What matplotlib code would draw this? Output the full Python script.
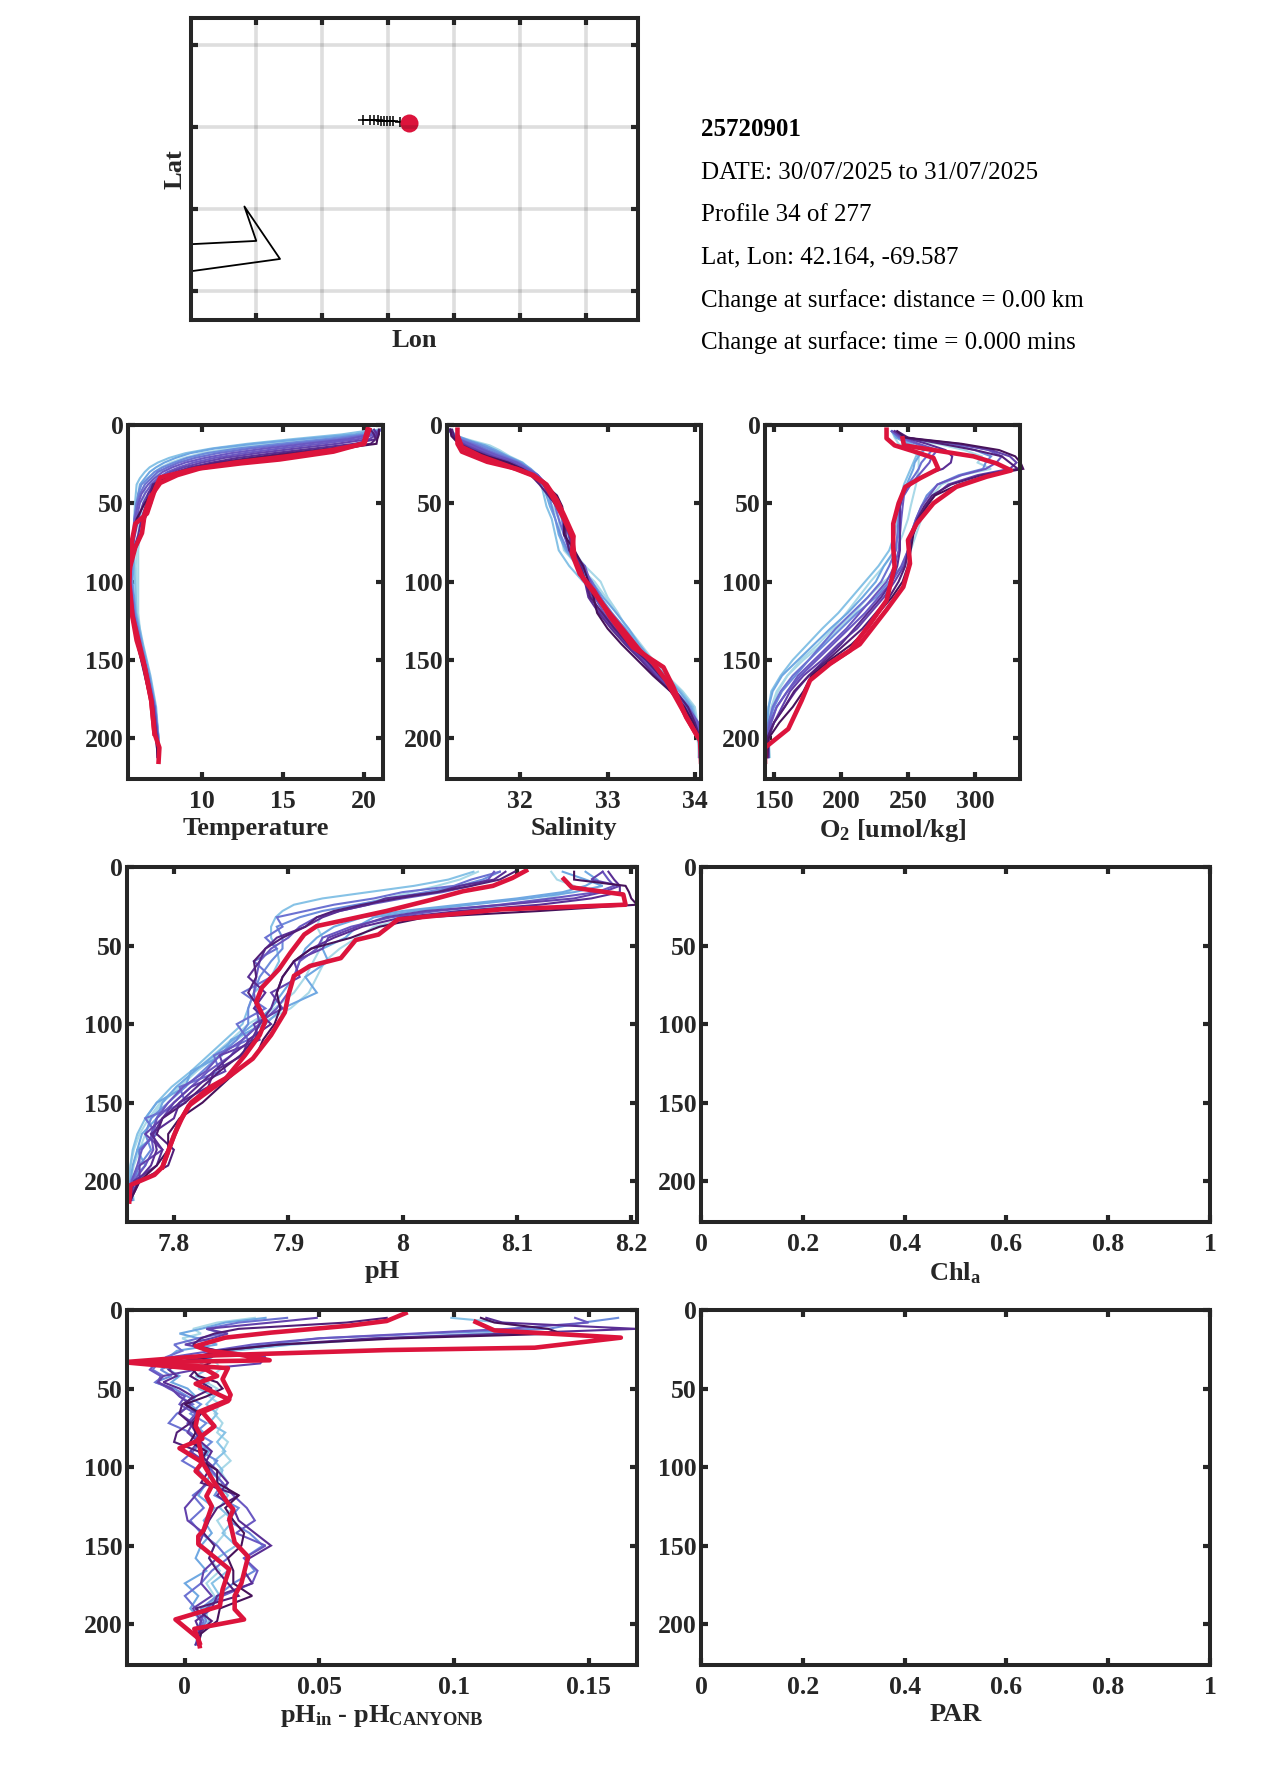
"""Float profile summary page: track map, text block and six depth panels."""
import matplotlib
matplotlib.use("Agg")
import matplotlib.pyplot as plt

plt.rcParams["font.family"] = ["Liberation Serif", "DejaVu Serif"]
plt.rcParams["font.weight"] = "bold"
plt.rcParams["axes.labelweight"] = "bold"
plt.rcParams["mathtext.default"] = "regular"

W, H = 1275, 1771
DARK = "#262626"
RED = "#dc143c"
# light to dark, drawn in that order so the newest thin line ends up on top
THIN_COLORS = ["#a9d9e8", "#86c2e6", "#6fa8e2", "#6c8cdc", "#6c72d2",
               "#6a58c2", "#6342ac", "#5a2e94", "#521f78", "#47125a"]

# map
LON_TICKS = [-72, -71, -70, -69, -68, -67]
LAT_TICKS = [40, 41, 42, 43]
COAST_LON = [-72.99, -72.0, -72.18, -71.64, -72.99]
COAST_LAT = [40.57, 40.61, 41.03, 40.39, 40.24]
TRACK_LON = [-70.38, -70.27, -70.22, -70.16, -70.11, -70.07, -70.02, -69.97, -69.92, -69.82]
TRACK_LAT = [42.085, 42.085, 42.08, 42.08, 42.075, 42.075, 42.07, 42.07, 42.07, 42.065]
DOT_LON = -69.69
DOT_LAT = 42.05

INFO_LINES = ["25720901",
              "DATE: 30/07/2025 to 31/07/2025",
              "Profile 34 of 277",
              "Lat, Lon: 42.164, -69.587",
              "Change at surface: distance = 0.00 km",
              "Change at surface: time = 0.000 mins"]

DEPTH_TICKS = [0, 50, 100, 150, 200]

# temperature
TEMP_DEPTH = [3, 6, 9, 12, 15, 18, 21, 24, 27, 30, 34, 38, 44, 50, 60, 70, 80, 90, 100, 120, 140, 160, 180, 200, 212]
TEMP_THIN = [
    [20.9, 19.8, 17.2, 14.6, 12.3, 10.5, 9.3, 8.5, 7.9, 7.4, 7.0, 6.8, 6.9, 6.7, 6.4, 6.2, 6.1, 6.1, 6.1, 6.1, 6.3, 6.7, 7.1, 7.3, 7.4],
    [20.8, 19.6, 16.8, 14.0, 11.6, 10.0, 8.9, 8.1, 7.5, 7.1, 6.7, 6.5, 6.5, 6.4, 6.2, 6.1, 6.0, 5.95, 6.0, 6.0, 6.3, 6.7, 7.1, 7.3, 7.35],
    [20.6, 18.6, 15.6, 12.8, 10.6, 9.0, 8.0, 7.3, 6.8, 6.5, 6.2, 6.0, 5.95, 5.9, 5.85, 5.8, 5.8, 5.85, 5.9, 6.0, 6.4, 6.85, 7.2, 7.35, 7.4],
    [21.0, 19.4, 16.2, 13.2, 10.8, 9.3, 8.4, 7.7, 7.2, 6.8, 6.5, 6.2, 6.1, 6.0, 5.9, 5.85, 5.8, 5.8, 5.75, 5.95, 6.35, 6.8, 7.15, 7.35, 7.4],
    [21.1, 20.0, 17.6, 14.8, 12.2, 10.3, 9.1, 8.3, 7.6, 7.1, 6.7, 6.3, 6.1, 6.0, 5.9, 5.8, 5.7, 5.7, 5.7, 5.9, 6.3, 6.75, 7.15, 7.35, 7.35],
    [21.1, 20.3, 18.4, 15.6, 13.0, 11.0, 9.6, 8.6, 7.9, 7.3, 6.9, 6.5, 6.2, 6.0, 5.85, 5.8, 5.7, 5.65, 5.65, 5.85, 6.25, 6.7, 7.1, 7.3, 7.3],
    [21.05, 20.5, 19.0, 16.4, 13.9, 11.8, 10.2, 9.0, 8.2, 7.6, 7.1, 6.7, 6.3, 6.1, 5.9, 5.8, 5.65, 5.6, 5.6, 5.8, 6.2, 6.7, 7.1, 7.3, 7.35],
    [21.0, 20.7, 19.6, 17.3, 14.8, 12.6, 10.8, 9.5, 8.6, 7.9, 7.3, 6.9, 6.5, 6.2, 6.0, 5.8, 5.65, 5.6, 5.6, 5.8, 6.2, 6.65, 7.1, 7.3, 7.3],
    [20.9, 20.8, 20.3, 18.3, 15.8, 13.4, 11.4, 10.0, 8.9, 8.1, 7.5, 7.0, 6.7, 6.4, 6.1, 5.9, 5.7, 5.55, 5.55, 5.75, 6.15, 6.65, 7.05, 7.3, 7.3],
    [20.6, 20.8, 20.7, 19.4, 16.9, 14.4, 12.2, 10.6, 9.3, 8.4, 7.7, 7.1, 6.7, 6.6, 6.3, 6.1, 5.8, 5.6, 5.5, 5.7, 6.1, 6.6, 7.0, 7.25, 7.3],
    [20.4, 20.6, 20.7, 20.4, 17.8, 15.2, 13.0, 11.0, 9.6, 8.6, 7.8, 7.0, 6.85, 6.9, 6.5, 6.3, 5.9, 5.65, 5.55, 5.7, 6.05, 6.55, 7.0, 7.2, 7.3],
    [20.9, 20.9, 20.8, 20.75, 18.6, 15.9, 13.5, 11.5, 9.9, 8.8, 7.9, 7.15, 6.9, 6.5, 6.0, 5.75, 5.65, 5.55, 5.5, 5.7, 6.05, 6.5, 6.95, 7.2, 7.3],
]
TEMP_RED_A_D = [2.8, 11.7, 17, 22, 24.5, 27.7, 32, 37, 46, 56.5, 69, 78, 90.6, 101, 120, 137.5, 154.6, 176, 197, 206, 215]
TEMP_RED_A = [20.2, 19.96, 18.1, 14.8, 12.4, 9.9, 8.5, 7.45, 6.84, 6.5, 6.33, 5.92, 5.6, 5.5, 5.7, 6.0, 6.5, 6.9, 7.1, 7.4, 7.35]
TEMP_RED_B_D = [3, 12, 16, 20, 24, 28, 33.5, 40.5, 56.5, 63, 73.5, 86, 101, 122, 150, 176, 197]
TEMP_RED_B = [20.3, 20.0, 18.0, 15.2, 12.0, 9.6, 7.45, 7.15, 6.64, 5.92, 5.72, 5.6, 5.55, 5.75, 6.4, 6.9, 7.1]

# salinity
SAL_DEPTH = [3, 7, 10, 13, 16, 20, 24, 28, 32, 38, 45, 52, 60, 70, 80, 90, 100, 110, 120, 130, 140, 150, 160, 170, 180, 190, 200, 212]
SAL_THIN = [
    [31.17, 31.25, 31.4, 31.6, 31.72, 31.85, 32.0, 32.08, 32.2, 32.3, 32.37, 32.42, 32.47, 32.52, 32.6, 32.74, 32.92, 33.0, 33.12, 33.22, 33.34, 33.48, 33.6, 33.78, 33.9, 33.98, 34.03, 34.05],
    [31.17, 31.26, 31.45, 31.65, 31.76, 31.88, 32.03, 32.1, 32.18, 32.24, 32.3, 32.37, 32.44, 32.46, 32.5, 32.66, 32.85, 32.98, 33.1, 33.24, 33.38, 33.52, 33.68, 33.86, 34.0, 34.03, 34.05, 34.04],
    [31.17, 31.24, 31.38, 31.52, 31.66, 31.82, 32.0, 32.1, 32.18, 32.24, 32.27, 32.3, 32.36, 32.4, 32.44, 32.56, 32.72, 32.9, 33.04, 33.2, 33.36, 33.5, 33.66, 33.84, 33.98, 34.02, 34.05, 34.05],
    [31.18, 31.28, 31.42, 31.6, 31.72, 31.86, 32.02, 32.12, 32.2, 32.28, 32.3, 32.34, 32.4, 32.44, 32.52, 32.66, 32.82, 32.95, 33.1, 33.24, 33.36, 33.5, 33.66, 33.82, 33.96, 34.02, 34.05, 34.05],
    [31.2, 31.26, 31.4, 31.55, 31.68, 31.84, 32.0, 32.1, 32.2, 32.28, 32.33, 32.36, 32.4, 32.46, 32.54, 32.68, 32.8, 32.92, 33.05, 33.2, 33.33, 33.46, 33.62, 33.78, 33.94, 34.02, 34.06, 34.06],
    [31.2, 31.24, 31.35, 31.5, 31.62, 31.8, 31.98, 32.1, 32.2, 32.3, 32.36, 32.4, 32.44, 32.5, 32.58, 32.7, 32.82, 32.92, 33.02, 33.16, 33.3, 33.44, 33.6, 33.76, 33.9, 34.0, 34.06, 34.05],
    [31.2, 31.24, 31.33, 31.46, 31.58, 31.76, 31.96, 32.08, 32.2, 32.3, 32.38, 32.44, 32.48, 32.5, 32.56, 32.74, 32.8, 32.88, 33.0, 33.12, 33.28, 33.42, 33.6, 33.78, 33.92, 34.04, 34.07, 34.06],
    [31.2, 31.22, 31.3, 31.42, 31.54, 31.72, 31.92, 32.06, 32.18, 32.3, 32.4, 32.45, 32.5, 32.55, 32.6, 32.72, 32.8, 32.85, 32.96, 33.1, 33.26, 33.42, 33.58, 33.76, 33.9, 34.02, 34.06, 34.07],
    [31.19, 31.22, 31.28, 31.38, 31.5, 31.68, 31.9, 32.04, 32.16, 32.28, 32.38, 32.44, 32.52, 32.58, 32.62, 32.66, 32.76, 32.82, 32.92, 33.06, 33.22, 33.4, 33.56, 33.74, 33.88, 33.98, 34.06, 34.07],
    [31.19, 31.22, 31.27, 31.35, 31.46, 31.64, 31.86, 32.02, 32.14, 32.26, 32.34, 32.42, 32.52, 32.56, 32.6, 32.7, 32.74, 32.78, 32.9, 33.04, 33.2, 33.38, 33.54, 33.72, 33.86, 33.97, 34.05, 34.07],
    [31.22, 31.24, 31.27, 31.31, 31.42, 31.6, 31.84, 32.0, 32.12, 32.22, 32.32, 32.42, 32.52, 32.52, 32.56, 32.68, 32.75, 32.8, 32.94, 33.08, 33.24, 33.44, 33.6, 33.78, 33.92, 34.0, 34.06, 34.07],
    [31.2, 31.21, 31.26, 31.33, 31.44, 31.62, 31.86, 32.02, 32.14, 32.28, 32.42, 32.48, 32.5, 32.5, 32.62, 32.72, 32.78, 32.84, 32.88, 33.0, 33.16, 33.34, 33.52, 33.72, 33.88, 33.98, 34.04, 34.07],
]
SAL_RED_A_D = [3, 12, 17, 23.5, 28, 32, 38, 48, 58.6, 71, 82, 95, 105.5, 122.6, 142, 154.6, 167, 186.6, 201.5, 215]
SAL_RED_A = [31.28, 31.28, 31.33, 31.62, 31.96, 32.15, 32.3, 32.42, 32.51, 32.61, 32.59, 32.68, 32.84, 33.03, 33.29, 33.64, 33.75, 33.9, 34.06, 34.07]
SAL_RED_B_D = [8, 14, 20, 26, 32, 37, 47, 60, 72, 85, 98, 120, 144, 152, 163, 180, 198]
SAL_RED_B = [31.29, 31.33, 31.55, 31.85, 32.13, 32.27, 32.38, 32.5, 32.6, 32.62, 32.72, 33.02, 33.37, 33.52, 33.67, 33.84, 34.02]

# oxygen
O2_DEPTH = [4, 8, 12, 16, 20, 24, 28, 32, 38, 45, 52, 60, 70, 80, 90, 100, 110, 120, 130, 140, 150, 160, 170, 180, 190, 200, 212]
O2_THIN = [
    [238, 240, 243, 252, 258, 258, 258, 257, 256, 254, 252, 250, 246, 241, 232, 222, 213, 204, 194, 183, 170, 160, 153, 149, 147, 146, 147],
    [238, 242, 272, 292, 305, 302, 312, 290, 275, 268, 264, 260, 256, 252, 246, 232, 220, 210, 198, 186, 172, 160, 152, 148, 146, 145, 146],
    [238, 242, 252, 262, 256, 254, 252, 250, 247, 245, 243, 242, 240, 236, 228, 218, 208, 198, 186, 175, 164, 155, 148, 146, 145, 145, 146],
    [238, 241, 250, 262, 258, 255, 254, 252, 249, 246, 244, 244, 243, 240, 232, 226, 216, 205, 192, 180, 168, 156, 149, 146, 145, 145, 145],
    [238, 244, 282, 300, 312, 308, 306, 288, 272, 264, 260, 256, 252, 250, 246, 236, 226, 212, 200, 188, 176, 166, 156, 150, 146, 145, 146],
    [238, 243, 256, 268, 264, 260, 258, 255, 250, 246, 244, 243, 242, 241, 236, 230, 220, 208, 196, 186, 176, 164, 155, 149, 146, 145, 145],
    [238, 245, 288, 310, 320, 316, 308, 290, 272, 266, 260, 256, 252, 250, 245, 238, 228, 218, 206, 194, 182, 170, 160, 152, 147, 145, 145],
    [240, 246, 258, 272, 268, 266, 262, 258, 252, 247, 246, 245, 244, 243, 240, 234, 224, 214, 204, 192, 180, 168, 160, 152, 148, 146, 146],
    [240, 246, 285, 312, 326, 331, 326, 302, 280, 270, 263, 258, 253, 251, 247, 240, 232, 222, 212, 198, 186, 172, 162, 156, 150, 146, 146],
    [240, 248, 264, 278, 283, 282, 276, 262, 250, 246, 244, 244, 244, 244, 242, 238, 230, 220, 210, 200, 188, 176, 166, 158, 150, 145, 145],
    [242, 250, 275, 300, 320, 326, 332, 305, 282, 268, 262, 257, 252, 250, 248, 243, 236, 226, 216, 203, 190, 176, 165, 158, 150, 145, 145],
    [242, 248, 290, 318, 330, 334, 336, 310, 288, 270, 264, 258, 254, 252, 250, 246, 238, 228, 220, 208, 192, 178, 172, 164, 154, 146, 145],
]
O2_RED_A_D = [3, 8.5, 13, 17, 21, 28, 34, 39.5, 50, 63, 78, 90.6, 112, 127, 144, 152.5, 163, 176, 194, 206, 215]
O2_RED_A = [234, 234, 240, 255, 269, 272.6, 259, 248, 243, 239, 239, 240, 234, 221.6, 206.7, 191.8, 176.9, 170.6, 160.7, 143.3, 143.3]
O2_RED_B_D = [8.5, 13, 16, 20, 24.5, 29, 33, 39.5, 50, 63, 73.5, 88.5, 103.4, 118, 140, 152]
O2_RED_B = [246, 247, 269, 298.8, 316, 327, 308.7, 286, 269, 256.5, 250, 251.5, 246.5, 234, 214, 192]

# pH
PH_DEPTH = [3, 8, 12, 16, 20, 24, 28, 32, 38, 45, 52, 60, 70, 80, 90, 100, 110, 120, 130, 140, 150, 160, 170, 180, 190, 200, 212]
PH_THIN = [
    [8.066, 8.050, 8.030, 8.008, 7.985, 7.962, 7.940, 7.928, 7.925, 7.930, 7.928, 7.922, 7.915, 7.905, 7.888, 7.865, 7.850, 7.834, 7.818, 7.803, 7.788, 7.778, 7.770, 7.765, 7.762, 7.76, 7.763],
    [8.13, 8.135, 8.15, 8.145, 8.126, 8.09, 8.05, 8.01, 7.975, 7.96, 7.945, 7.932, 7.925, 7.918, 7.902, 7.875, 7.855, 7.838, 7.82, 7.805, 7.79, 7.78, 7.775, 7.77, 7.765, 7.762, 7.765],
    [8.062, 8.04, 8.01, 7.97, 7.93, 7.905, 7.895, 7.889, 7.885, 7.885, 7.89, 7.892, 7.885, 7.87, 7.865, 7.86, 7.845, 7.83, 7.815, 7.798, 7.785, 7.775, 7.768, 7.764, 7.762, 7.761, 7.762],
    [8.14, 8.16, 8.175, 8.15, 8.11, 8.06, 8.01, 7.975, 7.96, 7.95, 7.93, 7.935, 7.915, 7.925, 7.895, 7.88, 7.85, 7.842, 7.815, 7.81, 7.785, 7.775, 7.785, 7.768, 7.775, 7.762, 7.764],
    [8.16, 8.17, 8.16, 8.14, 8.1, 8.05, 8.0, 7.965, 7.94, 7.925, 7.915, 7.91, 7.905, 7.895, 7.885, 7.87, 7.852, 7.835, 7.818, 7.802, 7.79, 7.785, 7.772, 7.768, 7.764, 7.762, 7.764],
    [8.085, 8.07, 8.05, 8.02, 7.99, 7.96, 7.93, 7.91, 7.89, 7.895, 7.895, 7.885, 7.875, 7.87, 7.865, 7.865, 7.855, 7.84, 7.825, 7.81, 7.795, 7.78, 7.775, 7.78, 7.77, 7.762, 7.762],
    [8.085, 8.06, 8.045, 8.0, 7.975, 7.94, 7.915, 7.89, 7.895, 7.88, 7.89, 7.87, 7.885, 7.86, 7.88, 7.855, 7.865, 7.835, 7.84, 7.805, 7.81, 7.775, 7.785, 7.77, 7.77, 7.764, 7.762],
    [8.175, 8.18, 8.185, 8.17, 8.13, 8.085, 8.03, 7.99, 7.955, 7.93, 7.925, 7.91, 7.905, 7.9, 7.89, 7.875, 7.86, 7.84, 7.828, 7.808, 7.795, 7.785, 7.782, 7.772, 7.768, 7.763, 7.763],
    [8.08, 8.075, 8.06, 8.035, 8.0, 7.97, 7.945, 7.925, 7.91, 7.9, 7.885, 7.875, 7.872, 7.87, 7.872, 7.875, 7.86, 7.85, 7.83, 7.815, 7.8, 7.785, 7.78, 7.782, 7.775, 7.765, 7.762],
    [8.175, 8.165, 8.19, 8.175, 8.15, 8.09, 8.02, 7.985, 7.96, 7.935, 7.93, 7.905, 7.91, 7.885, 7.895, 7.87, 7.875, 7.84, 7.845, 7.815, 7.8, 7.79, 7.775, 7.79, 7.77, 7.77, 7.762],
    [8.18, 8.185, 8.19, 8.19, 8.165, 8.12, 8.05, 8.0, 7.965, 7.94, 7.92, 7.905, 7.895, 7.89, 7.885, 7.875, 7.868, 7.85, 7.835, 7.82, 7.805, 7.79, 7.782, 7.785, 7.78, 7.768, 7.762],
    [8.09, 8.08, 8.05, 8.03, 7.985, 7.97, 7.945, 7.93, 7.915, 7.89, 7.88, 7.875, 7.865, 7.88, 7.87, 7.885, 7.865, 7.86, 7.835, 7.83, 7.805, 7.8, 7.78, 7.79, 7.785, 7.765, 7.762],
    [8.098, 8.085, 8.06, 8.03, 7.995, 7.965, 7.94, 7.925, 7.915, 7.895, 7.88, 7.87, 7.872, 7.865, 7.875, 7.88, 7.87, 7.858, 7.84, 7.825, 7.81, 7.79, 7.785, 7.8, 7.795, 7.77, 7.762],
    [8.15, 8.15, 8.195, 8.198, 8.2, 8.205, 8.12, 8.02, 7.98, 7.955, 7.92, 7.905, 7.895, 7.89, 7.893, 7.888, 7.878, 7.872, 7.855, 7.84, 7.825, 7.805, 7.795, 7.795, 7.785, 7.77, 7.762],
]
PH_RED_A_D = [2.3, 7, 12, 15.4, 20.7, 28, 33.4, 37.6, 43, 54.5, 65, 76.7, 86, 98, 107, 120, 135, 145.5, 152, 160, 171, 191, 196, 202.5, 213]
PH_RED_A = [8.108, 8.096, 8.079, 8.053, 8.026, 7.986, 7.952, 7.925, 7.914, 7.902, 7.892, 7.877, 7.872, 7.88, 7.875, 7.862, 7.845, 7.825, 7.813, 7.807, 7.8, 7.79, 7.783, 7.762, 7.761]
PH_RED_B_D = [7.6, 13, 17.5, 24, 27, 33.4, 43, 46.5, 58, 63, 69.3, 82, 92.6, 107, 122, 133, 140, 150, 162, 177, 191]
PH_RED_B = [8.141, 8.148, 8.193, 8.195, 8.086, 7.996, 7.979, 7.959, 7.946, 7.919, 7.905, 7.9, 7.897, 7.885, 7.869, 7.849, 7.832, 7.815, 7.805, 7.797, 7.79]

# pH minus CANYON-B estimate
DIFF_DEPTH = [5, 8, 12, 15, 18, 22, 26, 30, 34, 38, 42, 46, 50, 55, 60, 66, 72, 78, 84, 90, 96, 102, 110, 118, 126, 134, 142, 150, 158, 166, 174, 182, 190, 198, 206, 213]
DIFF_THIN = [
    [0.026, 0.012, 0.003, 0.006, -0.001, 0.004, 0.012, 0.008, 0.012, 0.013, 0.01, 0.008, 0.012, 0.009, 0.013, 0.011, 0.014, 0.012, 0.016, 0.014, 0.017, 0.013, 0.016, 0.014, 0.018, 0.012, 0.015, 0.011, 0.009, 0.013, 0.008, 0.011, 0.009, 0.007, 0.006, 0.005],
    [0.099, 0.118, 0.13, 0.11, 0.075, 0.04, 0.018, 0.01, 0.006, 0.008, 0.004, 0.009, 0.005, 0.011, 0.008, 0.012, 0.009, 0.015, 0.012, 0.015, 0.011, 0.014, 0.012, 0.016, 0.013, 0.018, 0.014, 0.019, 0.012, 0.016, 0.01, 0.013, 0.007, 0.009, 0.006, 0.004],
    [0.03, 0.015, 0.006, -0.002, 0.005, 0.012, -0.003, -0.006, -0.008, -0.006, -0.002, -0.005, 0.001, 0.004, 0.002, 0.006, 0.003, 0.007, 0.005, 0.009, 0.006, 0.01, 0.008, 0.005, 0.011, 0.007, 0.01, 0.006, 0.004, 0.008, 0.0, 0.005, 0.002, 0.006, 0.004, 0.005],
    [0.161, 0.148, 0.135, 0.09, 0.05, 0.03, 0.012, 0.005, -0.004, -0.009, -0.005, -0.011, -0.004, 0.001, 0.006, 0.002, 0.008, 0.004, 0.01, 0.006, 0.012, 0.009, 0.014, 0.011, 0.02, 0.016, 0.024, 0.029, 0.022, 0.026, 0.018, 0.012, 0.006, 0.008, 0.005, 0.004],
    [0.038, 0.02, 0.008, 0.014, 0.005, -0.004, -0.001, -0.007, -0.01, -0.012, -0.008, -0.011, -0.005, -0.002, 0.003, -0.003, -0.006, 0.002, 0.006, 0.003, -0.001, 0.005, 0.009, 0.003, 0.007, 0.002, 0.006, 0.012, 0.016, 0.01, 0.006, 0.0, 0.004, 0.007, 0.005, 0.005],
    [0.145, 0.15, 0.12, 0.085, 0.05, 0.025, 0.01, -0.005, -0.011, -0.013, -0.009, -0.01, -0.006, 0.0, -0.002, 0.004, 0.001, 0.006, 0.003, 0.008, 0.005, 0.01, 0.014, 0.018, 0.023, 0.026, 0.019, 0.03, 0.022, 0.027, 0.025, 0.014, 0.008, 0.006, 0.005, 0.005],
    [0.049, 0.032, 0.008, 0.016, 0.01, 0.0, 0.013, 0.03, 0.028, 0.004, -0.008, -0.01, -0.005, -0.002, 0.002, -0.002, 0.003, 0.001, 0.005, 0.002, 0.007, 0.004, 0.008, 0.004, 0.0, 0.001, 0.007, 0.005, 0.012, 0.007, 0.006, 0.01, 0.003, 0.006, 0.005, 0.005],
    [0.112, 0.118, 0.168, 0.12, 0.07, 0.035, 0.012, 0.004, -0.002, -0.006, -0.003, -0.008, -0.002, 0.003, 0.0, 0.005, 0.002, 0.004, 0.006, 0.01, 0.008, 0.012, 0.016, 0.012, 0.018, 0.02, 0.026, 0.032, 0.024, 0.022, 0.025, 0.012, 0.01, 0.004, 0.006, 0.004],
    [0.075, 0.06, 0.02, 0.011, 0.006, 0.003, 0.012, 0.01, -0.006, 0.004, 0.002, 0.006, 0.01, 0.004, -0.001, -0.002, 0.002, -0.003, -0.004, 0.005, 0.008, 0.009, 0.006, 0.02, 0.012, 0.009, 0.007, 0.011, 0.009, 0.012, 0.016, 0.02, 0.004, 0.01, 0.005, 0.005],
    [0.11, 0.115, 0.135, 0.14, 0.08, 0.035, 0.012, 0.006, 0.009, 0.003, 0.005, 0.012, 0.014, 0.008, 0.0, 0.006, 0.003, 0.004, 0.002, 0.008, 0.006, 0.012, 0.012, 0.02, 0.015, 0.018, 0.022, 0.021, 0.016, 0.018, 0.018, 0.025, 0.013, 0.012, 0.006, 0.005],
]
DIFF_RED_A_D = [2, 7, 10, 14.4, 17.6, 23, 26, 28, 32, 33.5, 38, 42, 47, 57, 65, 74, 82, 88, 97, 102.5, 112, 118.5, 125, 140, 144, 149, 165, 178, 188.5, 197, 209, 214]
DIFF_RED_A = [0.082, 0.075, 0.061, 0.032, 0.015, 0.004, 0.009, 0.019, 0.0315, -0.021, 0.008, 0.012, 0.004, 0.0165, 0.005, 0.004, 0.0065, -0.002, 0.0065, 0.004, 0.01, 0.008, 0.01, 0.007, 0.005, 0.005, 0.0165, 0.014, 0.013, -0.0035, 0.005, 0.0055]
DIFF_RED_B_D = [7.6, 13, 17.6, 24, 25.5, 29, 33, 37, 44, 54, 58, 65, 74, 82, 97, 110, 123, 127, 133, 148, 157, 174, 182, 190.5, 197, 203, 212]
DIFF_RED_B = [0.108, 0.115, 0.162, 0.13, 0.075, 0.009, -0.021, 0.016, 0.014, 0.017, 0.016, 0.0065, 0.011, 0.005, 0.0065, 0.011, 0.016, 0.018, 0.0165, 0.0185, 0.0235, 0.021, 0.0185, 0.0185, 0.022, 0.0035, 0.0055]


def add_axes_px(fig, left, right, top, bottom):
    return fig.add_axes([left / W, 1 - bottom / H, (right - left) / W, (bottom - top) / H])


def style_axes(ax):
    for sp in ax.spines.values():
        sp.set_linewidth(2.9)
        sp.set_color(DARK)
    ax.tick_params(direction="in", length=5, width=3, color=DARK, top=True, right=True,
                   labelcolor=DARK, labelsize=18.5)


def profile_panel(fig, box, xlim, xticks, xticklabels, xlabel):
    ax = add_axes_px(fig, *box)
    ax.set_xlim(xlim)
    ax.set_ylim(226, 0)
    ax.set_yticks(DEPTH_TICKS)
    ax.set_xticks(xticks)
    ax.set_xticklabels(xticklabels)
    ax.tick_params(axis="x", pad=8)
    ax.tick_params(axis="y", pad=3)
    style_axes(ax)
    ax.set_xlabel(xlabel, fontsize=19, color=DARK, labelpad=3)
    return ax


def draw_profiles(ax, depth, thin, red_a_d, red_a, red_b_d, red_b):
    n = len(thin)
    for i, vals in enumerate(thin):
        color = THIN_COLORS[i * len(THIN_COLORS) // n]
        ax.plot(vals, depth, color=color, lw=1.5, clip_on=False, solid_joinstyle="miter")
    ax.plot(red_b, red_b_d, color=RED, lw=3.3)
    ax.plot(red_a, red_a_d, color=RED, lw=3.3)


fig = plt.figure(figsize=(W / 100, H / 100), dpi=100)

# track map
ax = add_axes_px(fig, 191, 638, 18, 320)
ax.set_xlim(-72.99, -66.21)
ax.set_ylim(39.645, 43.33)
ax.set_xticks(LON_TICKS)
ax.set_yticks(LAT_TICKS)
ax.set_xticklabels([])
ax.set_yticklabels([])
ax.grid(True, color="black", alpha=0.13, lw=2.6)
ax.set_axisbelow(False)
style_axes(ax)
ax.plot(COAST_LON, COAST_LAT, color="black", lw=1.3)
ax.plot(TRACK_LON, TRACK_LAT, color="black", lw=1.0, marker="+", ms=7, mew=1.1)
ax.plot([DOT_LON], [DOT_LAT], "o", color=RED, ms=13, mew=0)
ax.set_xlabel("Lon", fontsize=19, color=DARK, labelpad=3)
ax.set_ylabel("Lat", fontsize=19, color=DARK, labelpad=0)

for i, line in enumerate(INFO_LINES):
    fig.text(701 / W, 1 - (130 + i * 42.6) / H, line, fontsize=18, color="black",
             fontweight="bold" if i == 0 else "normal", va="center", ha="left")

ax = profile_panel(fig, (128, 383, 425, 779), (5.47, 21.15), [10, 15, 20], ["10", "15", "20"], "Temperature")
draw_profiles(ax, TEMP_DEPTH, TEMP_THIN, TEMP_RED_A_D, TEMP_RED_A, TEMP_RED_B_D, TEMP_RED_B)

ax = profile_panel(fig, (447, 701, 425, 779), (31.16, 34.07), [32, 33, 34], ["32", "33", "34"], "Salinity")
draw_profiles(ax, SAL_DEPTH, SAL_THIN, SAL_RED_A_D, SAL_RED_A, SAL_RED_B_D, SAL_RED_B)

ax = profile_panel(fig, (765, 1020, 425, 779), (143.3, 333.6), [150, 200, 250, 300], ["150", "200", "250", "300"],
                   "O$_2$ [umol/kg]")
draw_profiles(ax, O2_DEPTH, O2_THIN, O2_RED_A_D, O2_RED_A, O2_RED_B_D, O2_RED_B)

ax = profile_panel(fig, (127, 637, 867, 1222), (7.759, 8.205), [7.8, 7.9, 8.0, 8.1, 8.2],
                   ["7.8", "7.9", "8", "8.1", "8.2"], "pH")
draw_profiles(ax, PH_DEPTH, PH_THIN, PH_RED_A_D, PH_RED_A, PH_RED_B_D, PH_RED_B)

ax = profile_panel(fig, (701, 1210, 867, 1222), (0, 1), [0, 0.2, 0.4, 0.6, 0.8, 1],
                   ["0", "0.2", "0.4", "0.6", "0.8", "1"], "Chl$_a$")

ax = profile_panel(fig, (127, 637, 1310, 1665), (-0.0215, 0.168), [0, 0.05, 0.1, 0.15],
                   ["0", "0.05", "0.1", "0.15"], "pH$_{in}$ - pH$_{CANYONB}$")
draw_profiles(ax, DIFF_DEPTH, DIFF_THIN, DIFF_RED_A_D, DIFF_RED_A, DIFF_RED_B_D, DIFF_RED_B)

ax = profile_panel(fig, (701, 1210, 1310, 1665), (0, 1), [0, 0.2, 0.4, 0.6, 0.8, 1],
                   ["0", "0.2", "0.4", "0.6", "0.8", "1"], "PAR")

fig.savefig("out.png", dpi=100)
